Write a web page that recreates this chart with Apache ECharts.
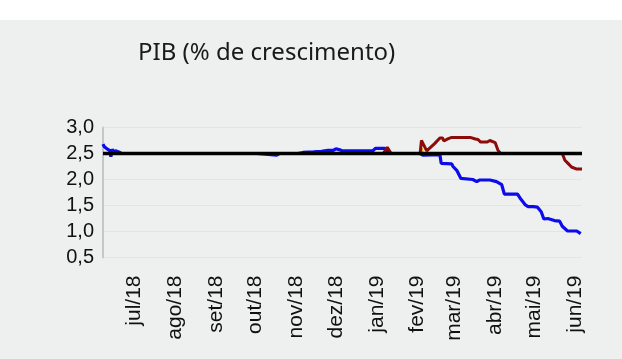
<!DOCTYPE html>
<html>
<head>
<meta charset="utf-8">
<script src="https://cdn.jsdelivr.net/npm/echarts@6/dist/echarts.min.js"></script>
<style>
html,body{margin:0;padding:0;background:#ffffff;}
#chart{width:622px;height:359px;}
</style>
</head>
<body>
<div id="chart"></div>
<script>
// ---- data ----
const titleText = 'PIB (% de crescimento)';
const firstDay = '2018-06-07';
const lastDay = '2019-06-06';
const monthStarts = ['2018-07-01','2018-08-01','2018-09-01','2018-10-01','2018-11-01','2018-12-01',
                     '2019-01-01','2019-02-01','2019-03-01','2019-04-01','2019-05-01','2019-06-01'];
const monthLabels = ['jul/18','ago/18','set/18','out/18','nov/18','dez/18',
                     'jan/19','fev/19','mar/19','abr/19','mai/19','jun/19'];
const yTicks = [0.5, 1.0, 1.5, 2.0, 2.5, 3.0];

const blueSeries = [
  ['2018-06-07',2.68],['2018-06-08',2.63],['2018-06-09',2.66],['2018-06-10',2.59],
  ['2018-06-11',2.62],['2018-06-12',2.56],['2018-06-13',2.44],['2018-06-14',2.58],
  ['2018-06-15',2.54],['2018-06-17',2.55],['2018-06-19',2.53],['2018-06-21',2.50],
  ['2018-10-02',2.50],['2018-10-03',2.47],['2018-10-17',2.47],['2018-10-19',2.50],
  ['2018-11-02',2.50],['2018-11-06',2.52],['2018-11-14',2.53],['2018-11-20',2.54],
  ['2018-11-25',2.56],['2018-11-29',2.56],['2018-12-01',2.59],['2018-12-04',2.57],
  ['2018-12-06',2.55],['2018-12-29',2.55],['2018-12-31',2.60],['2019-01-07',2.60],
  ['2019-01-10',2.50],['2019-02-03',2.50],['2019-02-05',2.47],['2019-02-18',2.48],
  ['2019-02-19',2.31],['2019-02-27',2.30],['2019-02-28',2.25],['2019-03-03',2.17],
  ['2019-03-06',2.02],['2019-03-07',2.00],['2019-03-15',2.00],['2019-03-18',1.96],
  ['2019-03-20',1.99],['2019-03-28',1.99],['2019-04-02',1.96],['2019-04-06',1.90],
  ['2019-04-08',1.72],['2019-04-18',1.72],['2019-04-20',1.64],['2019-04-24',1.51],
  ['2019-04-26',1.48],['2019-04-30',1.48],['2019-05-03',1.47],['2019-05-06',1.38],
  ['2019-05-08',1.24],['2019-05-11',1.25],['2019-05-16',1.21],['2019-05-20',1.20],
  ['2019-05-22',1.10],['2019-05-26',1.01],['2019-06-02',1.01],['2019-06-05',0.96]
];
const redSeries = [
  ['2019-01-06',2.50],['2019-01-09',2.62],['2019-01-12',2.50],['2019-02-03',2.50],
  ['2019-02-04',2.75],['2019-02-08',2.55],['2019-02-14',2.69],['2019-02-18',2.80],
  ['2019-02-20',2.80],['2019-02-21',2.74],['2019-02-24',2.78],['2019-02-27',2.81],
  ['2019-03-13',2.81],['2019-03-17',2.78],['2019-03-19',2.77],['2019-03-21',2.72],
  ['2019-03-26',2.72],['2019-03-28',2.75],['2019-04-01',2.71],['2019-04-03',2.57],
  ['2019-04-05',2.50],['2019-05-22',2.50],['2019-05-24',2.37],['2019-05-26',2.32],
  ['2019-05-29',2.24],['2019-06-02',2.20],['2019-06-06',2.20]
];
const orangeSeries = [['2019-02-03',2.50],['2019-02-04',2.60],['2019-02-05',2.50]];
const refSeries = [[firstDay,2.5],[lastDay,2.5]];

// ---- daily category axis ----
function buildDays(a, b) {
  const out = [];
  const d = new Date(a + 'T00:00:00Z');
  const e = new Date(b + 'T00:00:00Z');
  while (d <= e) { out.push(d.toISOString().slice(0,10)); d.setUTCDate(d.getUTCDate()+1); }
  return out;
}
const days = buildDays(firstDay, lastDay);

const chart = echarts.init(document.getElementById('chart'), null, {renderer:'canvas'});
const axisFont = 'Liberation Sans, Arial, sans-serif';
chart.setOption({
  backgroundColor: '#eeefef',
  animation: false,
  graphic: [{type:'rect', left:0, top:0, shape:{width:622, height:20}, style:{fill:'#ffffff'}, silent:true}],
  title: {
    text: titleText, left: 133, top: 36,
    textStyle: {fontFamily: 'Noto Sans, sans-serif', fontSize: 24, fontWeight: 'normal', color: '#1a1a1a'}
  },
  grid: {left: 103, right: 40, top: 127.5, bottom: 101.5, containLabel: false},
  xAxis: {
    type: 'category', data: days, boundaryGap: false,
    axisLine: {show: false}, axisTick: {show: false},
    splitLine: {show: false},
    axisLabel: {
      rotate: 90, margin: 18, fontFamily: axisFont, fontSize: 21, color: '#111',
      interval: function (i, v) { return monthStarts.indexOf(v) >= 0; },
      formatter: function (v) { const k = monthStarts.indexOf(v); return k >= 0 ? monthLabels[k] : ''; }
    }
  },
  yAxis: {
    type: 'value', min: yTicks[0], max: yTicks[yTicks.length-1], interval: 0.5,
    axisLine: {show: true, lineStyle: {color: '#c6c6c6', width: 2}},
    axisTick: {show: false},
    splitLine: {show: true, lineStyle: {color: '#e3e4e4', width: 1}},
    axisLabel: {
      margin: 9, fontFamily: axisFont, fontSize: 20, color: '#111',
      formatter: function (v) { return v.toFixed(1).replace('.', ','); }
    }
  },
  series: [
    {type:'line', data: blueSeries, showSymbol:false, lineStyle:{color:'#0b0bec', width:3.2}, itemStyle:{color:'#0b0bec'}},
    {type:'line', data: orangeSeries, showSymbol:false, lineStyle:{color:'#f0a020', width:2.5}, itemStyle:{color:'#f0a020'}},
    {type:'line', data: redSeries, showSymbol:false, lineStyle:{color:'#8c0b0b', width:3}, itemStyle:{color:'#8c0b0b'}},
    {type:'line', data: refSeries, showSymbol:false, lineStyle:{color:'#000000', width:3.4}, itemStyle:{color:'#000'}}
  ]
});
</script>
</body>
</html>
